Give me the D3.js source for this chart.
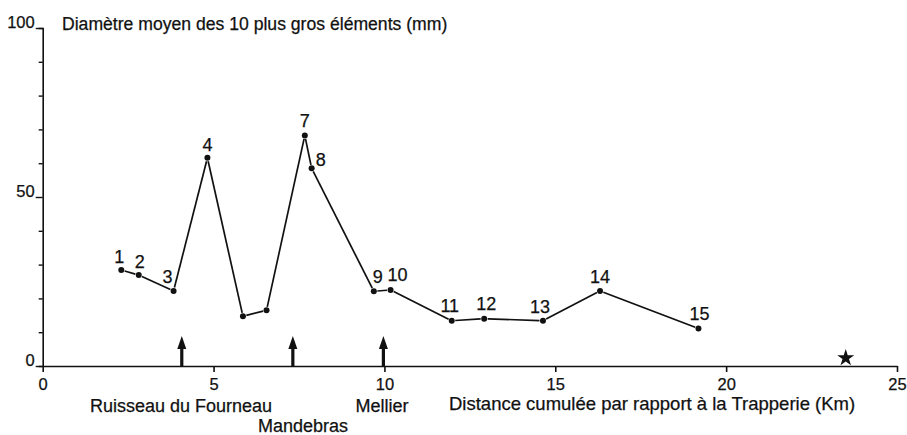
<!DOCTYPE html>
<html>
<head>
<meta charset="utf-8">
<script src="https://cdn.jsdelivr.net/npm/d3@7"></script>
<style>
  html, body { margin: 0; padding: 0; background: #fff; }
  svg { display: block; }
  text { font-family: "Liberation Sans", Arial, Helvetica, sans-serif; fill: #111; stroke: #111; stroke-width: 0.25px; }
</style>
</head>
<body>
<svg id="chart" width="907" height="435"></svg>
<script>
// ---- Data ----
const stationIds   = ["1","2","3","4","5","6","7","8","9","10","11","12","13","14","15"];
const showLabel    = [true,true,true,true,false,false,true,true,true,true,true,true,true,true,true];
const distanceKm   = [2.30, 2.81, 3.83, 4.82, 5.86, 6.55, 7.67, 7.87, 9.69, 10.18, 11.97, 12.92, 14.64, 16.31, 19.19];
const diameterMm   = [28.4, 26.9, 22.2, 61.6, 14.7, 16.5, 68.2, 58.5, 22.1, 22.5, 13.4, 14.0, 13.4, 22.2, 11.1];
const xTickValues  = [0, 5, 10, 15, 20, 25];
const yTickValues  = [0, 10, 20, 30, 40, 50, 60, 70, 80, 90, 100];
const yTickLabels  = [0, 50, 100];
const markerNames  = ["Ruisseau du Fourneau", "Mandebras", "Mellier"];
const markerKm     = [4.07, 7.32, 9.97];
const starKm       = [23.5];
const titleText    = "Diamètre moyen des 10 plus gros éléments (mm)";
const xAxisTitle   = "Distance cumulée par  rapport à la Trapperie (Km)";

// ---- Layout (positions / styles, not data) ----
const labelOffsets = [[-2,-7],[1,-7],[-6,-8],[0,-7],[0,0],[0,0],[0,-8],[9,-2],[4,-8],[7,-9],[-2,-9],[2,-9],[-3,-8],[0,-8],[1,-8]];
const markerLabelPos = [[181, 412], [303, 432], [382, 412]];

const svg = d3.select("#chart");
const x = d3.scaleLinear().domain([0, 25]).range([42.7, 897]);
const y = d3.scaleLinear().domain([0, 100]).range([366, 28]);

// X axis
const xAxis = d3.axisBottom(x).tickValues(xTickValues).tickSize(6).tickSizeOuter(0).tickPadding(6);
const gx = svg.append("g").attr("transform", `translate(0,${y(0)})`).call(xAxis);
gx.select(".domain").attr("stroke", "#111").attr("stroke-width", 1.6);
gx.selectAll(".tick line").attr("stroke", "#111").attr("stroke-width", 1.6);
gx.selectAll(".tick text").attr("font-size", 16.5).attr("font-family", null).attr("fill", "#111");

// Y axis
const yAxis = d3.axisLeft(y).tickValues(yTickValues).tickSizeOuter(0)
  .tickSize(4).tickFormat(d => yTickLabels.includes(d) ? String(d) : "");
const gy = svg.append("g").attr("transform", `translate(${x(0)},0)`).call(yAxis);
gy.select(".domain").attr("stroke", "#111").attr("stroke-width", 1.6);
gy.selectAll(".tick line").attr("stroke", "#111").attr("stroke-width", 1.4)
  .attr("x2", d => yTickLabels.includes(d) ? -7 : -4);
gy.selectAll(".tick text").attr("font-size", 16.5).attr("font-family", null).attr("fill", "#111")
  .attr("x", -8).attr("dy", "0").attr("y", -1);

// Title
svg.append("text").attr("x", 62).attr("y", 29.5).attr("font-size", 17.6).text(titleText);

// Data line with small gaps near each point
const pts = distanceKm.map((d, i) => ({ px: x(d), py: y(diameterMm[i]), id: stationIds[i], i }));
const gap = 3.5;
const segs = d3.pairs(pts).map(([a, b]) => {
  const dx = b.px - a.px, dy = b.py - a.py, L = Math.hypot(dx, dy);
  const ux = dx / L, uy = dy / L;
  return { x1: a.px + ux * gap, y1: a.py + uy * gap, x2: b.px - ux * gap, y2: b.py - uy * gap };
});
svg.append("g").selectAll("line").data(segs).join("line")
  .attr("x1", d => d.x1).attr("y1", d => d.y1).attr("x2", d => d.x2).attr("y2", d => d.y2)
  .attr("stroke", "#111").attr("stroke-width", 1.7);

svg.append("g").selectAll("circle").data(pts).join("circle")
  .attr("cx", d => d.px).attr("cy", d => d.py).attr("r", 3).attr("fill", "#111");

svg.append("g").selectAll("text").data(pts.filter(d => showLabel[d.i])).join("text")
  .attr("x", d => d.px + labelOffsets[d.i][0]).attr("y", d => d.py + labelOffsets[d.i][1])
  .attr("text-anchor", "middle").attr("font-size", 18).text(d => d.id);

// Arrows
const arrows = svg.append("g").selectAll("g").data(markerKm).join("g")
  .attr("transform", d => `translate(${x(d)},${y(0)})`);
arrows.append("rect").attr("x", -1.6).attr("y", -18).attr("width", 3.2).attr("height", 18).attr("fill", "#111");
arrows.append("path").attr("d", "M-4.5,-17 L0,-30 L4.5,-17 Z").attr("fill", "#111");

// Marker labels
svg.append("g").selectAll("text").data(markerNames).join("text")
  .attr("x", (d, i) => markerLabelPos[i][0]).attr("y", (d, i) => markerLabelPos[i][1])
  .attr("text-anchor", "middle").attr("font-size", 18).text(d => d);

// X axis title
svg.append("text").attr("x", 449).attr("y", 410).attr("font-size", 18.5).text(xAxisTitle);

// Star
svg.append("g").selectAll("path").data(starKm).join("path")
  .attr("d", d3.symbol(d3.symbolStar).size(90)())
  .attr("transform", d => `translate(${x(d)},${y(0) - 8})`)
  .attr("fill", "#111");
</script>
</body>
</html>
